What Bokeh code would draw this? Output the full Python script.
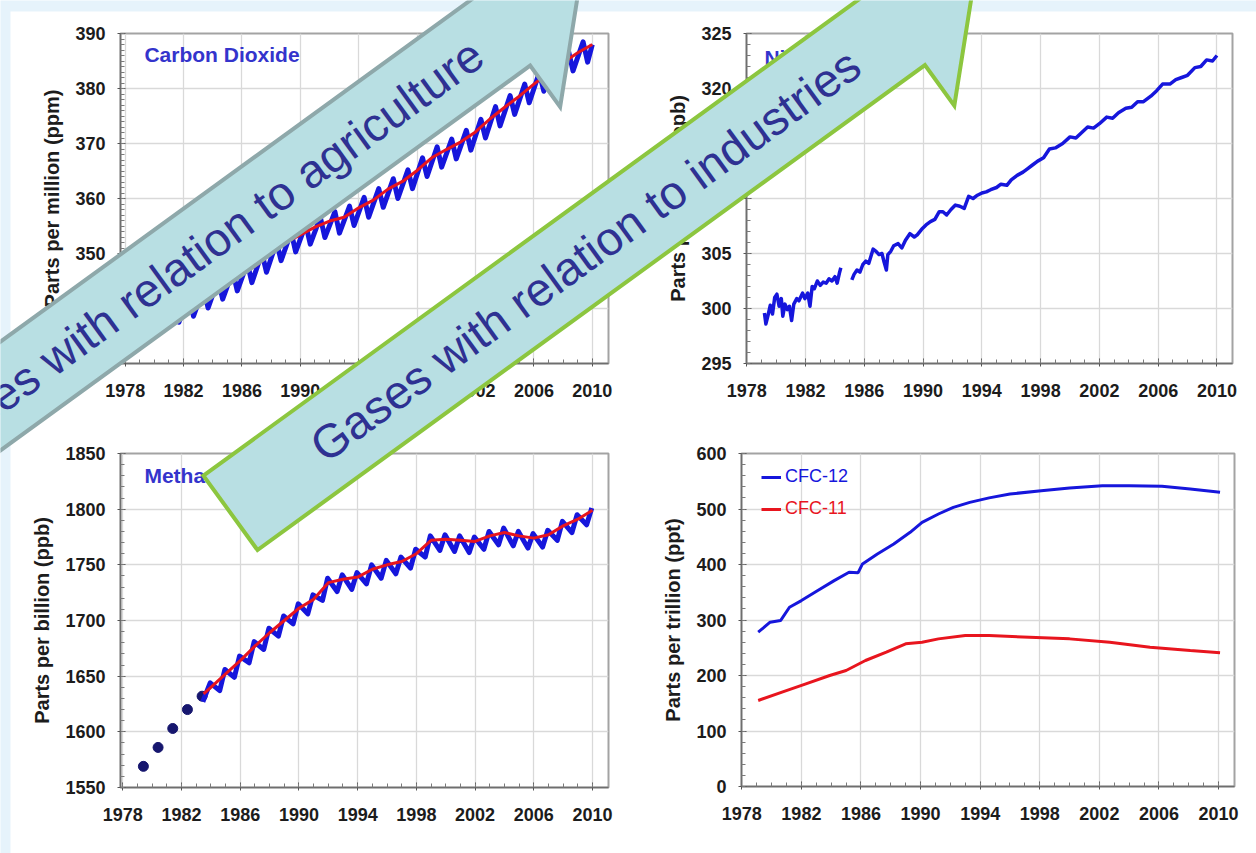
import math

from bokeh.plotting import figure
from bokeh.models import Range1d, FixedTicker, Label, Legend, LegendItem
from bokeh.embed import file_html
from bokeh.resources import INLINE
from bokeh.core.properties import value

W, H = 1256, 853
FONT = "Liberation Sans"

# ---------------- data ----------------
# Carbon dioxide (ppm): deseasonalised trend at the start of each year 1979-2010
co2_trend_years = list(range(1979, 2011))
co2_trend = [336.0, 337.9, 339.5, 340.5, 341.7, 343.3, 344.9, 346.3, 347.9, 350.0,
             352.0, 353.4, 354.8, 355.9, 356.6, 358.3, 359.7, 361.7, 363.1, 365.1,
             367.4, 368.9, 370.3, 372.1, 374.5, 376.6, 378.6, 380.8, 382.8, 384.7,
             386.5, 388.0]
# monthly record: spring maximum and late-summer minimum of each year 1979-2009
co2_cycle_years = list(range(1979, 2010))
co2_peak = [338.1, 339.9, 341.3, 342.3, 343.7, 345.3, 346.8, 348.3, 350.1, 352.1,
            353.9, 355.3, 356.6, 357.6, 358.6, 360.2, 361.8, 363.6, 365.2, 367.4,
            369.4, 370.8, 372.4, 374.4, 376.7, 378.7, 380.8, 382.9, 384.9, 386.8,
            388.5]
co2_trough = [334.6, 336.3, 337.5, 338.6, 340.1, 341.7, 343.2, 344.7, 346.6, 348.7,
              350.3, 351.7, 352.9, 353.7, 355.1, 356.6, 358.4, 360.0, 361.8, 364.0,
              365.7, 367.2, 368.8, 371.0, 373.2, 375.3, 377.4, 379.5, 381.4, 383.2,
              384.8]

# Nitrous oxide (ppb)
n2o_time = [1979.2, 1979.3, 1979.45, 1979.6, 1979.75, 1979.9, 1980.05, 1980.2, 1980.35,
            1980.45, 1980.6, 1980.75, 1980.9, 1981.05, 1981.2, 1981.4, 1981.55, 1981.8,
            1981.95, 1982.15, 1982.3, 1982.45, 1982.6, 1982.8, 1983.0, 1983.2, 1983.4,
            1983.6, 1983.8, 1984.0, 1984.15, 1984.3, 1984.4, float("nan"),
            1985.15, 1985.3, 1985.5, 1985.7, 1985.9, 1986.1, 1986.3, 1986.6, 1986.8,
            1987.0, 1987.2, 1987.35, 1987.5, 1987.6, 1987.8, 1988.0, 1988.3, 1988.55,
            1988.8, 1989.1, 1989.4, 1989.6, 1989.9, 1990.2, 1990.5, 1990.8, 1991.1,
            1991.35, 1991.6, 1991.9, 1992.2, 1992.5, 1992.8, 1993.1, 1993.4, 1993.7,
            1994.0, 1994.3, 1994.6, 1995.0, 1995.3, 1995.7, 1996.0, 1996.4, 1996.8,
            1997.1, 1997.4, 1997.8, 1998.2, 1998.6, 1999.0, 1999.5, 2000.0, 2000.4,
            2000.8, 2001.2, 2001.6, 2002.0, 2002.5, 2002.9, 2003.3, 2003.8, 2004.2,
            2004.6, 2005.0, 2005.5, 2005.9, 2006.3, 2006.8, 2007.2, 2007.6, 2008.0,
            2008.5, 2008.9, 2009.3, 2009.7, 2010.0]
n2o_ppb = [299.6, 298.6, 299.4, 300.3, 299.5, 301.0, 301.3, 300.2, 300.9,
           299.3, 300.4, 299.9, 300.2, 298.9, 300.4, 300.9, 300.7, 301.4,
           300.9, 301.4, 300.2, 302.0, 301.8, 302.5, 302.1, 302.4, 302.3,
           302.7, 302.5, 302.9, 302.3, 303.2, 303.7, float("nan"),
           302.6, 303.1, 303.5, 303.3, 304.0, 304.3, 304.1, 305.4, 305.2,
           304.9, 305.0, 304.2, 303.5, 304.9, 305.2, 305.7, 305.9, 305.5,
           306.2, 306.8, 306.5, 306.7, 307.2, 307.6, 307.9, 308.1, 308.8,
           308.8, 308.5, 309.0, 309.4, 309.3, 309.1, 310.2, 310.0, 310.3,
           310.5, 310.6, 310.8, 311.0, 311.3, 311.2, 311.7, 312.1, 312.4,
           312.7, 313.0, 313.4, 313.7, 314.5, 314.6, 315.0, 315.6, 315.5,
           316.0, 316.5, 316.4, 316.8, 317.4, 317.3, 317.8, 318.2, 318.3,
           318.8, 318.8, 319.3, 319.8, 320.4, 320.4, 320.8, 321.0, 321.2,
           321.9, 322.0, 322.6, 322.5, 323.0]

# Methane (ppb): early annual means, trend line and seasonal extremes
ch4_dot_years = [1979.4, 1980.4, 1981.4, 1982.4, 1983.4]
ch4_dots = [1569, 1586, 1603, 1620, 1632]
ch4_trend_years = [1983.5] + list(range(1984, 2011))
ch4_trend = [1634, 1640, 1652, 1664, 1677, 1689, 1700, 1711, 1719, 1734, 1737, 1739,
             1746, 1750, 1753, 1760, 1772, 1773, 1772, 1771, 1776, 1779, 1776, 1774,
             1777, 1785, 1791, 1799]
ch4_first = 1627            # first monthly value, mid 1983
ch4_peak_years = list(range(1983, 2010))
ch4_peak = [1644, 1656, 1668, 1681, 1693, 1704, 1715, 1723, 1738, 1741, 1743, 1750,
            1754, 1757, 1764, 1776, 1777, 1776, 1775, 1780, 1783, 1780, 1778, 1781,
            1789, 1795, 1801]
ch4_trough_years = list(range(1984, 2010))
ch4_trough = [1637, 1649, 1662, 1674, 1686, 1697, 1706, 1718, 1726, 1728, 1733, 1738,
              1742, 1747, 1757, 1763, 1762, 1761, 1764, 1768, 1767, 1765, 1766, 1772,
              1779, 1786]

# Chlorofluorocarbons (ppt)
cfc12_time = [1979.1, 1979.9, 1980.6, 1981.2, 1982.0, 1983.1, 1984.2, 1985.2, 1985.8,
              1986.1, 1987.1, 1988.2, 1989.3, 1990.1, 1991.2, 1992.2, 1993.3, 1994.6,
              1996.0, 1998.1, 2000.0, 2002.2, 2004.0, 2006.2, 2008.1, 2010.1]
cfc12 = [278, 296, 299, 323, 335, 353, 371, 386, 385, 401, 419, 437, 458, 476, 491,
         503, 512, 520, 527, 533, 538, 542, 542, 541, 536, 530]
cfc11_time = [1979.1, 1980.7, 1982.3, 1983.9, 1985.0, 1986.3, 1987.7, 1989.0, 1990.1,
              1991.2, 1993.0, 1994.6, 1997.3, 2000.0, 2002.7, 2005.4, 2008.1, 2010.1]
cfc11 = [155, 170, 185, 200, 209, 227, 242, 257, 260, 266, 272, 272, 269, 266, 260,
         251, 245, 241]

YEAR_TICKS = list(range(1978, 2011, 4))
YEAR_MINOR = list(range(1978, 2011))

BLUE = "#1616dc"
RED = "#e8151e"
NAVY_TEXT = "#2e3192"
TITLE_BLUE = "#3434cc"
TEAL = "#b8dfe3"


def place(p, left, top):
    p.styles = {"position": "absolute", "left": f"{left}px", "top": f"{top}px"}


def panel(frame, xr, yr, yticks, yminor, ylabel):
    left, top, fw, fh = frame
    ml, mr, mt, mb = 112, 16, 24, 56
    p = figure(width=fw + ml + mr, height=fh + mt + mb,
               x_range=Range1d(*xr), y_range=Range1d(*yr),
               output_backend="svg", toolbar_location=None,
               min_border_left=ml, min_border_right=mr,
               min_border_top=mt, min_border_bottom=mb)
    place(p, left - ml, top - mt)
    p.border_fill_alpha = 0
    p.background_fill_color = "white"
    p.outline_line_color = "#a3a3a3"
    p.outline_line_width = 2
    p.xaxis.ticker = FixedTicker(ticks=YEAR_TICKS, minor_ticks=YEAR_MINOR)
    p.yaxis.ticker = FixedTicker(ticks=yticks, minor_ticks=yminor)
    for ax in (p.xaxis[0], p.yaxis[0]):
        ax.major_label_text_font = FONT
        ax.major_label_text_font_style = "bold"
        ax.major_label_text_font_size = "18px"
        ax.major_label_text_color = "#1c1c1c"
        ax.axis_line_color = "#6e6e6e"
        ax.axis_line_width = 1.5
        ax.major_tick_line_color = "#555555"
        ax.minor_tick_line_color = "#7a7a7a"
        ax.major_tick_in = 5
        ax.major_tick_out = 3
        ax.minor_tick_in = 4
        ax.minor_tick_out = 0
    p.xaxis.major_label_standoff = 17
    p.yaxis.major_label_standoff = 12
    p.yaxis.axis_label = ylabel
    p.yaxis.axis_label_text_font = FONT
    p.yaxis.axis_label_text_font_style = "bold"
    p.yaxis.axis_label_text_font_size = "20px"
    p.yaxis.axis_label_text_color = "#1c1c1c"
    p.yaxis.axis_label_standoff = 9
    for g in (p.xgrid[0], p.ygrid[0]):
        g.grid_line_color = "#d9d9d9"
        g.grid_line_width = 1.3
    return p


def panel_title(p, x, y, text):
    p.add_layout(Label(x=x, y=y, text=text, text_font=FONT, text_font_style="bold",
                       text_font_size="21px", text_color=TITLE_BLUE,
                       text_baseline="middle"))


# ---------------- Carbon dioxide ----------------
p1 = panel((120, 33, 488, 330), (1977.68, 2011.11), (330, 390),
           list(range(330, 391, 10)), list(range(330, 391)), "Parts per million (ppm)")
co2_x, co2_y = [float(co2_trend_years[0])], [co2_trend[0]]
for yr, pk, tr in zip(co2_cycle_years, co2_peak, co2_trough):
    co2_x += [yr + 0.37, yr + 0.68]
    co2_y += [pk, tr]
co2_x.append(float(co2_trend_years[-1]))
co2_y.append(co2_trend[-1])
p1.line(co2_x, co2_y, line_color=BLUE, line_width=5, line_join="round")
p1.line(co2_trend_years, co2_trend, line_color=RED, line_width=3)
panel_title(p1, 1979.32, 386.2, "Carbon Dioxide")

# ---------------- Nitrous oxide ----------------
p2 = panel((746, 33, 486, 330), (1977.98, 2011.06), (295, 325),
           list(range(295, 326, 5)), list(range(295, 326)), "Parts per billion (ppb)")
p2.line(n2o_time, n2o_ppb, line_color=BLUE, line_width=3.5, line_join="round")
panel_title(p2, 1979.2, 322.8, "Nitrous Oxide")

# ---------------- Methane ----------------
p3 = panel((120, 453, 488, 334), (1977.84, 2011.09), (1550, 1850),
           list(range(1550, 1851, 50)), list(range(1550, 1851, 10)),
           "Parts per billion (ppb)")
ch4_x, ch4_y = [ch4_trend_years[0] - 0.05], [ch4_first]
ch4_x.append(ch4_peak_years[0] + 0.95)
ch4_y.append(ch4_peak[0])
for yr, tr, pk in zip(ch4_trough_years, ch4_trough, ch4_peak[1:]):
    ch4_x += [yr + 0.6, yr + 0.95]
    ch4_y += [tr, pk]
p3.scatter(ch4_dot_years, ch4_dots, size=10, fill_color="#16166e", line_color="#16166e")
p3.line(ch4_x, ch4_y, line_color=BLUE, line_width=5, line_join="round")
p3.line(ch4_trend_years, ch4_trend, line_color=RED, line_width=3)
panel_title(p3, 1979.47, 1830.2, "Methane")

# ---------------- CFCs ----------------
p4 = panel((741, 453, 493, 333), (1977.98, 2011.07), (0, 600),
           list(range(0, 601, 100)), list(range(0, 601, 20)), "Parts per trillion (ppt)")
r12 = p4.line(cfc12_time, cfc12, line_color=BLUE, line_width=3)
r11 = p4.line(cfc11_time, cfc11, line_color=RED, line_width=3)
for item, loc, colour in ((LegendItem(label="CFC-12", renderers=[r12]), (20, 299), BLUE),
                          (LegendItem(label="CFC-11", renderers=[r11]), (20, 267), RED)):
    leg = Legend(items=[item], location=loc, padding=0, margin=0, spacing=0,
                 glyph_width=20, glyph_height=20, label_height=20, label_standoff=4,
                 label_text_font=FONT, label_text_font_size="18px",
                 label_text_color=colour, border_line_alpha=0,
                 background_fill_alpha=0)
    p4.add_layout(leg)


# ---------------- slide background and arrows ----------------
def sheet():
    f = figure(width=W, height=H, x_range=Range1d(0, W), y_range=Range1d(0, H),
               output_backend="svg", toolbar_location=None,
               min_border_left=0, min_border_right=0, min_border_top=0,
               min_border_bottom=0, x_axis_type=None, y_axis_type=None)
    f.outline_line_color = None
    place(f, 0, 0)
    return f


bg = sheet()
bg.background_fill_color = "#e6f3fb"
bg.border_fill_color = "#e6f3fb"
bg.quad(left=10, right=W, bottom=0, top=H - 11, fill_color="white", line_color=None)

ov = sheet()
ov.background_fill_alpha = 0
ov.border_fill_alpha = 0


def arrow(head_x, head_y, deg, half_w, barb_w, head_len, tail_len):
    """Block arrow outline in page pixels (y downwards), head base centred at head_x, head_y."""
    t = math.radians(deg)
    d = (math.cos(t), -math.sin(t))
    n = (math.sin(t), math.cos(t))

    def pt(a, b):
        return head_x + a * d[0] + b * n[0], head_y + a * d[1] + b * n[1]

    pts = [pt(-tail_len, -half_w), pt(0, -half_w), pt(0, -barb_w), pt(head_len, 0),
           pt(0, barb_w), pt(0, half_w), pt(-tail_len, half_w)]
    return [q[0] for q in pts], [H - q[1] for q in pts]


def along(head_x, head_y, deg, dist):
    t = math.radians(deg)
    return head_x + dist * math.cos(t), H - (head_y - dist * math.sin(t))


ANGLE = 36
arrows = [
    # head base, half width, barb half width, head length, tail length, text offset, border
    ((503.8, 29.5), 44, 95, 95, 900, -375.0, "#8ea8aa", "Gases with relation to agriculture"),
    ((897.4, 27.4), 46, 96, 96, 825, -386.5, "#8cc63f", "Gases with relation to industries"),
]
for (hx, hy), hw, bw, hl, tl, toff, edge, label in arrows:
    xs, ys = arrow(hx, hy, ANGLE, hw, bw, hl, tl)
    ov.patch(xs, ys, fill_color=TEAL, line_color=edge, line_width=4, line_join="miter")
    tx, ty = along(hx, hy, ANGLE, toff)
    ov.text(x=[tx], y=[ty], text=[label], angle=math.radians(ANGLE),
            text_align="center", text_baseline="middle",
            text_font=value(FONT), text_font_size="47px", text_color=NAVY_TEXT)

# each sheet is its own root so that no layout aligns their frames
roots = [bg, p1, p2, p3, p4, ov]

with open("out.html", "w") as fh:
    fh.write(file_html(roots, INLINE, title="Greenhouse gases"))
